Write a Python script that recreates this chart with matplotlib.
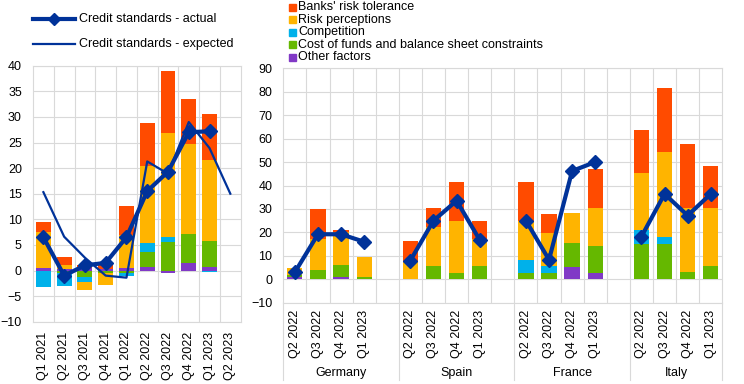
import matplotlib
matplotlib.use("Agg")
import matplotlib.pyplot as plt
import matplotlib.transforms as mtransforms
from matplotlib.lines import Line2D
from matplotlib.patches import Rectangle
import numpy as np

plt.rcParams['font.family'] = ['Liberation Sans', 'DejaVu Sans']
plt.rcParams['font.size'] = 9

# 색상
c_banks = '#FF4B00'
c_risk = '#FFB400'
c_comp = '#00B1EA'
c_cost = '#65B800'
c_other = '#8139C6'
c_line = '#003299'
c_grid = '#D9D9D9'

factor_names = ["Banks' risk tolerance", "Risk perceptions", "Competition",
                "Cost of funds and balance sheet constraints", "Other factors"]

# 왼쪽 패널: 유로 지역
quarters_ea = ['Q1 2021', 'Q2 2021', 'Q3 2021', 'Q4 2021', 'Q1 2022',
               'Q2 2022', 'Q3 2022', 'Q4 2022', 'Q1 2023', 'Q2 2023']
ea_other = [0.4, 0.3, 0.4, 0.3, 0.5, 0.6, -0.4, 1.5, 0.6, np.nan]
ea_cost = [0.0, -0.4, -1.2, -0.5, -0.5, 3.1, 5.6, 5.6, 5.1, np.nan]
ea_comp = [-3.2, -2.7, -1.0, 0.0, -0.5, 1.6, 1.0, 0.0, -0.2, np.nan]
ea_risk = [7.1, 0.8, -1.7, -2.3, 6.4, 15.2, 20.2, 17.7, 15.9, np.nan]
ea_banks = [2.0, 1.5, 0.6, 0.8, 5.7, 8.3, 12.2, 8.7, 8.9, np.nan]
ea_actual = [6.5, -1.0, 1.0, 1.5, 6.5, 15.5, 19.3, 27.0, 27.2, np.nan]
ea_expected = [15.3, 6.6, 2.5, -1.0, -1.4, 21.3, 18.9, 29.0, 23.9, 15.0]

# 오른쪽 패널: 국가별
countries = ['Germany', 'Spain', 'France', 'Italy']
quarters_c = ['Q2 2022', 'Q3 2022', 'Q4 2022', 'Q1 2023']
c_other_v = {'Germany': [0.9, 0.0, 0.9, 0.0], 'Spain': [0.0, 0.0, 0.0, 0.0],
             'France': [0.0, 0.0, 5.1, 2.7], 'Italy': [0.0, 0.0, 0.0, 0.0]}
c_cost_v = {'Germany': [1.0, 3.9, 5.0, 0.9], 'Spain': [0.0, 5.5, 2.7, 5.5],
            'France': [2.7, 2.7, 10.3, 11.3], 'Italy': [15.1, 15.1, 3.0, 5.8]}
c_comp_v = {'Germany': [0.0, 0.0, 0.0, 0.0], 'Spain': [0.0, 0.0, 0.0, 0.0],
            'France': [5.7, 2.8, 0.0, 0.0], 'Italy': [6.0, 3.1, 0.0, 0.0]}
c_risk_v = {'Germany': [3.1, 13.1, 14.1, 8.4], 'Spain': [8.0, 17.0, 22.3, 11.5],
            'France': [16.6, 14.1, 12.9, 16.5], 'Italy': [24.3, 36.3, 27.5, 24.7]}
c_banks_v = {'Germany': [0.0, 13.1, 1.2, 0.0], 'Spain': [8.4, 8.1, 16.7, 8.0],
             'France': [16.7, 8.3, 0.0, 16.6], 'Italy': [18.1, 27.2, 27.0, 18.0]}
c_actual = {'Germany': [3.0, 19.2, 19.2, 16.0], 'Spain': [8.0, 25.0, 33.5, 16.8],
            'France': [25.0, 8.3, 46.2, 50.0], 'Italy': [18.2, 36.4, 27.2, 36.4]}


def stacked(ax, x, series, colors, width):
    # 양수는 위로, 음수는 아래로 쌓기
    pos = np.zeros(len(x))
    neg = np.zeros(len(x))
    for vals, col in zip(series, colors):
        v = np.nan_to_num(np.array(vals, dtype=float))
        bottom = np.where(v >= 0, pos, neg)
        ax.bar(x, v, width, bottom=bottom, color=col, linewidth=0, zorder=2)
        pos += np.clip(v, 0, None)
        neg += np.clip(v, None, 0)


def style_axes(ax):
    for s in ax.spines.values():
        s.set_color(c_grid)
        s.set_linewidth(0.8)
    ax.grid(True, which='major', axis='y', color=c_grid, lw=0.8, zorder=0)
    ax.grid(True, which='minor', axis='x', color=c_grid, lw=0.8, zorder=0)
    ax.tick_params(which='both', length=0)
    ax.set_axisbelow(True)


W, H = 744, 384
fig = plt.figure(figsize=(W / 100, H / 100), dpi=100)

# 왼쪽
ax1 = fig.add_axes([33 / W, (H - 321.7) / H, (240.7 - 33) / W, (321.7 - 65.7) / H])
x1 = np.arange(len(quarters_ea))
stacked(ax1, x1, [ea_other, ea_cost, ea_comp, ea_risk, ea_banks],
        [c_other, c_cost, c_comp, c_risk, c_banks], 0.72)
ax1.plot(x1, ea_expected, color=c_line, lw=1.6, zorder=3)
ax1.plot(x1, ea_actual, color=c_line, lw=3, marker='D', ms=7, zorder=4)
ax1.set_xlim(-0.5, len(quarters_ea) - 0.5)
ax1.set_ylim(-10, 40)
ax1.set_yticks(np.arange(-10, 41, 5))
ax1.set_xticks(x1, quarters_ea, rotation=90)
ax1.set_xticks(np.arange(0.5, len(quarters_ea) - 1, 1), minor=True)
style_axes(ax1)
ax1.tick_params(axis='x', which='major', pad=7)
ax1.tick_params(axis='y', pad=8)

# 오른쪽
ax2 = fig.add_axes([283.3 / W, (H - 302.7) / H, 439 / W, (302.7 - 68.3) / H])
n_slots = 5 * len(countries) - 1
for g, cn in enumerate(countries):
    xs = g * 5 + np.arange(4)
    stacked(ax2, xs, [c_other_v[cn], c_cost_v[cn], c_comp_v[cn], c_risk_v[cn], c_banks_v[cn]],
            [c_other, c_cost, c_comp, c_risk, c_banks], 0.66)
    ax2.plot(xs, c_actual[cn], color=c_line, lw=3, marker='D', ms=7, zorder=4)
x2 = [g * 5 + i for g in range(len(countries)) for i in range(4)]
ax2.set_xlim(-0.5, n_slots - 0.5)
ax2.set_ylim(-10, 90)
ax2.set_yticks(np.arange(-10, 91, 10))
ax2.set_xticks(x2, quarters_c * len(countries), rotation=90)
ax2.set_xticks(np.arange(0.5, n_slots - 1, 1), minor=True)
style_axes(ax2)
ax2.tick_params(axis='x', which='major', pad=5)
ax2.tick_params(axis='y', pad=8)

trans = mtransforms.blended_transform_factory(ax2.transData, ax2.transAxes)
for xv in [-0.5, 4.5, 9.5, 14.5, n_slots - 0.5]:
    ax2.plot([xv, xv], [0, -0.33], transform=trans, clip_on=False, color=c_grid, lw=0.8)
for g, cn in enumerate(countries):
    right = min(g * 5 + 4.5, n_slots - 0.5)
    ax2.text((g * 5 - 0.5 + right) / 2, -0.30, cn, transform=trans, ha='center', va='center')

# 범례 (왼쪽 선)
def fx(px):
    return px / W


def fy(py):
    return 1 - py / H


fig.add_artist(Line2D([fx(33), fx(75)], [fy(19), fy(19)], color=c_line, lw=3,
                      transform=fig.transFigure))
fig.add_artist(Line2D([fx(54)], [fy(19)], color=c_line, marker='D', ms=6,
                      transform=fig.transFigure))
fig.text(fx(79), fy(19), 'Credit standards - actual', va='center', ha='left')
fig.add_artist(Line2D([fx(33), fx(75)], [fy(44), fy(44)], color=c_line, lw=1.6,
                      transform=fig.transFigure))
fig.text(fx(79), fy(44), 'Credit standards - expected', va='center', ha='left')

# 범례 (오른쪽 요인)
leg_colors = [c_banks, c_risk, c_comp, c_cost, c_other]
for i, (name, col) in enumerate(zip(factor_names, leg_colors)):
    yc = 7.5 + i * 12.35
    fig.add_artist(Rectangle((fx(288.5), fy(yc + 3.6)), 7 / W, 7 / H, color=col,
                             transform=fig.transFigure))
    fig.text(fx(298), fy(yc), name, va='center', ha='left')

fig.savefig('out.png', dpi=100)
